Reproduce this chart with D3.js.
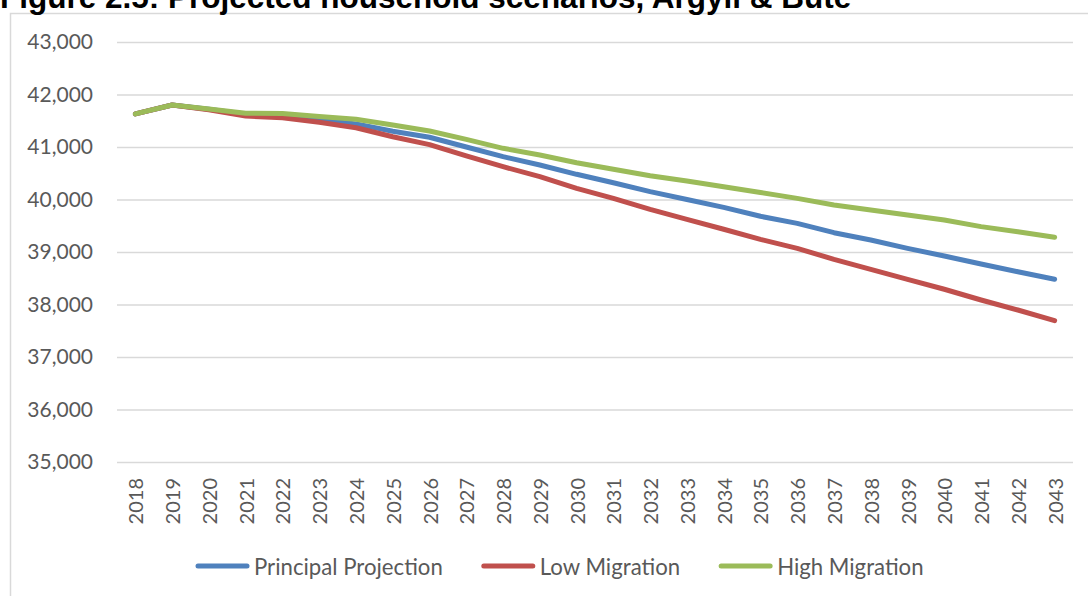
<!DOCTYPE html>
<html>
<head>
<meta charset="utf-8">
<script src="https://cdn.jsdelivr.net/npm/d3@7"></script>
<style>
  html, body { margin: 0; padding: 0; background: #ffffff; }
  svg { display: block; }
</style>
</head>
<body>
<svg id="chart" width="1088" height="596"></svg>
<script>
// Projected number of households, Argyll & Bute, 2018–2043
const years = d3.range(2018, 2044).map(String);

const principalProjection = [
  41630, 41800, 41720, 41625, 41600, 41520, 41440, 41300, 41185, 41000,
  40816, 40657, 40480, 40320, 40150, 40000, 39850, 39680, 39545, 39368,
  39229, 39070, 38924, 38772, 38625, 38480
];
const lowMigration = [
  41630, 41800, 41710, 41590, 41558, 41470, 41367, 41196, 41045, 40830,
  40625, 40435, 40213, 40023, 39813, 39623, 39433, 39240, 39070, 38860,
  38670, 38480, 38290, 38086, 37895, 37692
];
const highMigration = [
  41630, 41800, 41725, 41642, 41640, 41580, 41527, 41419, 41305, 41146,
  40975, 40848, 40701, 40575, 40454, 40352, 40244, 40133, 40022, 39895,
  39800, 39705, 39610, 39483, 39387, 39280
];

const seriesNames = ["Principal Projection", "Low Migration", "High Migration"];
const seriesColors = ["#4f81bd", "#c0504d", "#9bbb59"];
const yTicks = [35000, 36000, 37000, 38000, 39000, 40000, 41000, 42000, 43000];
const titleText = "Figure 2.5: Projected household scenarios, Argyll & Bute";

const series = [principalProjection, lowMigration, highMigration].map((vals, i) => ({
  name: seriesNames[i],
  color: seriesColors[i],
  values: vals.map((v, j) => ({ year: years[j], value: v }))
}));

const svg = d3.select("#chart");
const W = 1088, H = 596;
const plot = { left: 117, right: 1073, top: 42, bottom: 462 };
const labelFont = "Lato, 'Open Sans', sans-serif";
const textGrey = "#595959";

svg.append("rect").attr("width", W).attr("height", H).attr("fill", "#ffffff");

// chart area frame (right and bottom edges fall outside the page)
svg.append("rect")
  .attr("x", 10.5).attr("y", 13.5)
  .attr("width", W + 20).attr("height", H + 20)
  .attr("fill", "none").attr("stroke", "#d9d9d9").attr("stroke-width", 1.5);

// figure title above the chart frame
svg.append("text")
  .attr("x", 0).attr("y", 8)
  .attr("font-family", "'Liberation Sans', Arial, sans-serif")
  .attr("font-weight", "bold")
  .attr("font-size", 31.5)
  .attr("fill", "#000000")
  .text(titleText);

const x = d3.scaleBand().domain(years).range([plot.left, plot.right]);
const y = d3.scaleLinear().domain([35000, 43000]).range([plot.bottom, plot.top]);
const xc = d => x(d) + x.bandwidth() / 2;

// horizontal gridlines
const yAxis = d3.axisLeft(y)
  .tickValues(yTicks)
  .tickSize(-(plot.right - plot.left))
  .tickPadding(24)
  .tickFormat(d3.format(","));

const gy = svg.append("g")
  .attr("transform", `translate(${plot.left},0)`)
  .call(yAxis);
gy.select(".domain").remove();
gy.selectAll(".tick line").attr("stroke", "#d9d9d9").attr("stroke-width", 1.5);
gy.selectAll(".tick text")
  .attr("font-family", labelFont)
  .attr("font-size", 21)
  .attr("fill", textGrey);

// category axis with vertical year labels
const xAxis = d3.axisBottom(x).tickSize(0).tickPadding(0);
const gx = svg.append("g")
  .attr("transform", `translate(0,${plot.bottom})`)
  .call(xAxis);
gx.select(".domain").remove();
gx.selectAll(".tick text")
  .attr("font-family", labelFont)
  .attr("font-size", 20)
  .attr("fill", textGrey)
  .attr("text-anchor", "end")
  .attr("dy", null)
  .attr("dominant-baseline", "central")
  .attr("transform", "translate(0,16) rotate(-90)");

// series lines
const line = d3.line()
  .x(d => xc(d.year))
  .y(d => y(d.value));

svg.append("g")
  .selectAll("path")
  .data(series)
  .join("path")
  .attr("d", d => line(d.values))
  .attr("fill", "none")
  .attr("stroke", d => d.color)
  .attr("stroke-width", 5)
  .attr("stroke-linecap", "round")
  .attr("stroke-linejoin", "round");

// legend
const legend = svg.append("g").attr("transform", "translate(196,566)");
let cursor = 0;
series.forEach(s => {
  const g = legend.append("g").attr("transform", `translate(${cursor},0)`);
  g.append("line")
    .attr("x1", 2).attr("x2", 51).attr("y1", 0).attr("y2", 0)
    .attr("stroke", s.color).attr("stroke-width", 5)
    .attr("stroke-linecap", "round");
  const t = g.append("text")
    .attr("x", 58).attr("y", 0)
    .attr("dominant-baseline", "central")
    .attr("font-family", labelFont)
    .attr("font-size", 22.2)
    .attr("fill", textGrey)
    .text(s.name);
  cursor += 58 + t.node().getComputedTextLength() + 39;
});
</script>
</body>
</html>
